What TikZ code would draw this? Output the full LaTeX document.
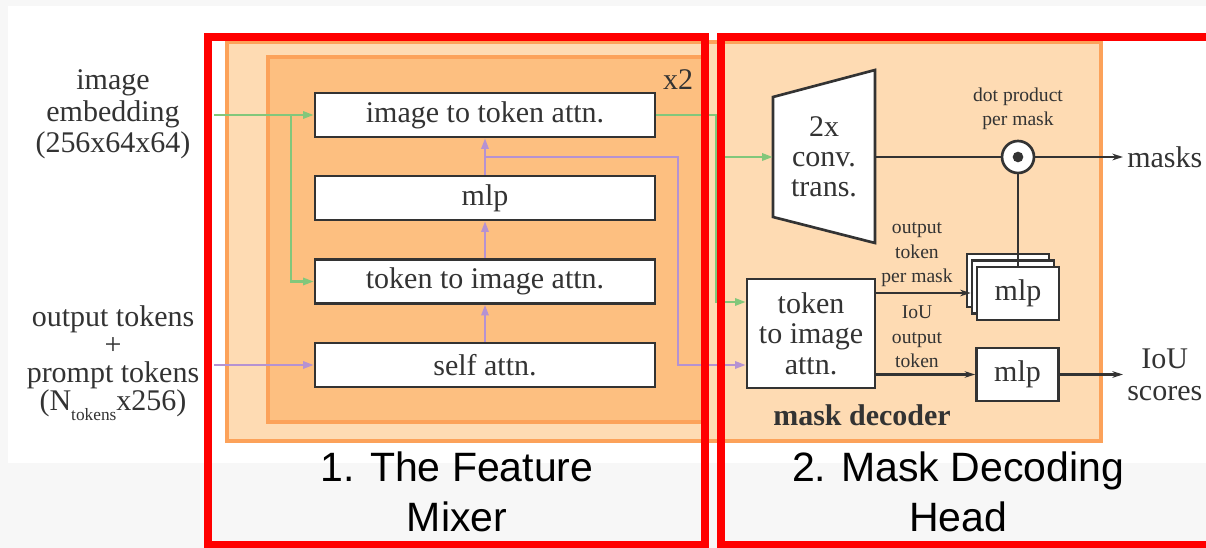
\documentclass[tikz,border=0pt]{standalone}
\usepackage{fontspec}
\setmainfont{Liberation Serif}
\newfontfamily\labelfont{Liberation Sans}
\usetikzlibrary{arrows.meta}
\definecolor{bggray}{HTML}{F7F7F7}
\definecolor{lightor}{HTML}{FEDBB3}
\definecolor{darkor}{HTML}{FDBF80}
\definecolor{orborder}{HTML}{FCA25A}
\definecolor{gline}{HTML}{82C77B}
\definecolor{pline}{HTML}{B592D2}
\definecolor{txt}{HTML}{333333}
\definecolor{redbox}{HTML}{FF0000}
\begin{document}
\begin{tikzpicture}[x=0.75pt,y=-0.75pt,
  bigtxt/.style={text=txt, inner sep=0pt, font=\fontsize{22.5}{23}\selectfont},
  smalltxt/.style={text=txt, inner sep=0pt, align=center, font=\fontsize{14.7}{18.4}\selectfont},
  blk/.style={draw=txt, line width=2pt, fill=white, text=txt, inner sep=0pt, font=\fontsize{22.5}{23}\selectfont},
  mixbox/.style={blk, minimum width=255pt, minimum height=33pt},
  mlpbox/.style={blk, minimum width=61.5pt, minimum height=39.75pt},
  gpath/.style={draw=gline, line width=1.6pt},
  gconn/.style={gpath, -{Triangle[length=8pt,width=5.5pt]}},
  ppath/.style={draw=pline, line width=1.6pt},
  pconn/.style={ppath, -{Triangle[length=8pt,width=5.5pt]}},
  kline/.style={draw=txt, line width=1.6pt},
  kconn/.style={kline, -{Stealth[length=8pt,width=5pt]}},
  orbox/.style={draw=orborder, line width=3pt},
  redframe/.style={draw=redbox, line width=6pt},
  bottomlab/.style={text=black, inner sep=0pt, align=center, font=\labelfont\fontsize{30.75}{37.5}\selectfont}
]
\useasboundingbox (0,0) rectangle (1206,548);
\clip (0,0) rectangle (1206,548);
% backgrounds
\fill[bggray] (0,0) rectangle (1206,548);
\fill[white] (8,6) rectangle (1206,463);
\path[orbox, fill=lightor] (227,42) rectangle (1101,441);
\path[orbox, fill=darkor] (268,57) rectangle (704,422);
\node[bigtxt] (x2) at (678,80) {x2};

% input labels
\node[bigtxt, align=center, font=\fontsize{22.5}{23.6}\selectfont] (imgemb) at (113,114.5) {image\\embedding\\(256x64x64)};
\node[bigtxt, align=center, font=\fontsize{22.5}{21}\selectfont] (tokens) at (113,363)
  {output tokens\\+\\prompt tokens\\(N\raisebox{-7.5pt}{\fontsize{13}{13}\selectfont tokens}x256)};

% feature mixer boxes
\node[mixbox] (itt) at (485,115) {image to token attn.};
\node[mixbox] (mlp) at (485,198) {mlp};
\node[mixbox] (tti) at (485,281.5) {token to image attn.};
\node[mixbox] (sa) at (485,365) {self attn.};

% decoder
\path[blk] (773,97) -- (875,70) -- (875,243) -- (773,217) -- cycle;
\node[bigtxt, align=center, minimum width=76.5pt, font=\fontsize{22.5}{22.5}\selectfont] (conv) at (824,157) {2x\\conv.\\trans.};

\node[circle, draw=txt, line width=2pt, fill=white, minimum size=24pt, inner sep=0pt] (dot) at (1018,157) {};
\fill[txt] (dot.center) circle (4pt);
\node[smalltxt] (dotlab) at (1018,109) {dot product\\per mask};
\node[bigtxt, anchor=west, inner xsep=3pt] (masks) at (1123,157) {masks};

\node[blk, align=center, minimum width=96pt, minimum height=81.75pt, font=\fontsize{22.5}{22.9}\selectfont] (dtti) at (811,333.5) {token\\to image\\attn.};

\node[mlpbox] (mlpB) at (1008,280.5) {};
\node[mlpbox] (mlpM) at (1013,287) {};
\node[mlpbox] (mlpF) at (1018,293.5) {mlp};
\node[mlpbox] (iou) at (1017.5,374.5) {mlp};
\node[bigtxt, anchor=west, inner xsep=3pt, align=center, font=\fontsize{22.5}{24}\selectfont] (iouscores) at (1123,374.5) {IoU\\scores};

\node[smalltxt] (outlab) at (917,255) {output\\token\\per mask};
\node[smalltxt] (ioulab) at (917,337) {IoU\\output\\token};
\node[bigtxt, font=\bfseries\fontsize{22.5}{23}\selectfont] (mdlab) at (862,415) {mask decoder};

% coordinates
\coordinate (gin) at (214,115);
\coordinate (gsplit) at (291,115);
\coordinate (gx) at (716,115);
\coordinate (gy) at (0,302);
\coordinate (convy) at (0,157);
\coordinate (pin) at (214,365);
\coordinate (pbr) at (485,157);
\coordinate (pcorner) at (678,157);
\coordinate (ky1) at (0,293);
\coordinate (ky2) at (0,374.5);

% green connectors
\draw[gconn] (gin) -- (itt);
\draw[gconn] (gsplit) |- (tti);
\draw[gconn] (itt.east) -- (gx) |- (dtti.west |- gy);
\draw[gconn] (gx |- convy) -- (conv.west);

% purple connectors
\draw[pconn] (pin) -- (sa);
\draw[pconn] (sa) -- (tti);
\draw[pconn] (tti) -- (mlp);
\draw[pconn] (mlp) -- (itt);
\draw[pconn] (pbr) -- (pcorner) |- (dtti.west |- pin);

% black connectors
\draw[kline] (conv.east) -- (dot);
\draw[kconn] (dot) -- (masks.west);
\draw[kline] (dot) -- (mlpF);
\draw[kconn] (dtti.east |- ky1) -- (mlpM.west |- ky1);
\draw[kconn] (dtti.east |- ky2) -- (iou);
\draw[kconn] (iou) -- (iouscores.west);

% red frames
\draw[redframe] (208,37) rectangle (705,545);
\draw[redframe] (721,37) rectangle (1220,545);

% bottom labels
\node[bottomlab] (lab1) at (457,492) {1. The Feature\\Mixer};
\node[bottomlab] (lab2) at (958,492) {2. Mask Decoding\\Head};
\end{tikzpicture}
\end{document}
